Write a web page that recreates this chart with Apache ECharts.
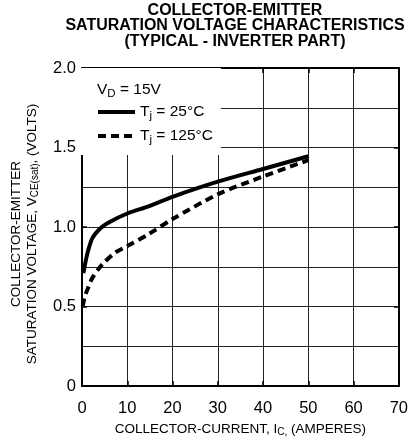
<!DOCTYPE html>
<html><head><meta charset="utf-8">
<script src="https://cdn.jsdelivr.net/npm/echarts@6/dist/echarts.min.js"></script>
<style>html,body{margin:0;padding:0;background:#fff}#c{width:411px;height:442px}</style>
</head><body><div id="c"></div>
<script>
const titleLines = ['COLLECTOR-EMITTER', 'SATURATION VOLTAGE CHARACTERISTICS', '(TYPICAL - INVERTER PART)'];
const xTicks = [0, 10, 20, 30, 40, 50, 60, 70];
const yTickLabels = {0: '0', 0.5: '0.5', 1: '1.0', 1.5: '1.5', 2: '2.0'};
const current25 = [0.3, 0.7, 1.25, 2.3, 4.2, 6, 10, 14.7, 20, 30, 40, 50];
const vce25 = [0.71, 0.77, 0.84, 0.93, 0.995, 1.03, 1.085, 1.13, 1.19, 1.285, 1.365, 1.445];
const current125 = [0.15, 0.6, 1.25, 2.3, 4.5, 7.4, 10, 14.7, 20, 30, 40, 50];
const vce125 = [0.50, 0.56, 0.61, 0.68, 0.765, 0.84, 0.88, 0.955, 1.05, 1.205, 1.318, 1.42];
const seriesNames = ['T{sub|j} = 25°C', 'T{sub|j} = 125°C'];

const FONT = '"Liberation Sans", Arial, Helvetica, sans-serif';
const pair = (xs, ys) => xs.map((x, i) => [x, ys[i]]);
const chart = echarts.init(document.getElementById('c'), null, {renderer: 'canvas'});
const gridLine = {show: true, lineStyle: {color: '#222', width: 1}};
const subStyle = (fs, pad) => ({fontSize: fs, verticalAlign: 'bottom', padding: [pad, 0, 0, 0], fontFamily: FONT, color: '#000'});
chart.setOption({
  animation: false,
  textStyle: {fontFamily: FONT},
  title: [
    {text: titleLines.join('\n'), left: 235, top: 3, textAlign: 'center', padding: 0,
     textStyle: {fontFamily: FONT, fontWeight: 'bold', fontSize: 16, lineHeight: 15.3, color: '#000'}},
    {text: 'V{sub|D} = 15V', left: 97, top: 80, padding: 0,
     textStyle: {fontFamily: FONT, fontWeight: 'normal', fontSize: 15.5, color: '#000',
       rich: {sub: subStyle(11.5, 8)}}}
  ],
  grid: {left: 81, right: 10, top: 68, bottom: 55, containLabel: false},
  legend: {
    left: 81, top: 68, orient: 'vertical',
    padding: [36, 8, 9, 15], itemGap: 6, itemWidth: 37, itemHeight: 14,
    backgroundColor: '#fff',
    itemStyle: {opacity: 0},
    lineStyle: {width: 4, color: '#000', cap: 'butt'},
    data: seriesNames,
    textStyle: {fontFamily: FONT, fontSize: 15.5, color: '#000',
      rich: {sub: subStyle(11.5, 8)}}
  },
  xAxis: [
    {type: 'value', min: xTicks[0], max: xTicks[xTicks.length - 1], interval: 10, position: 'bottom',
     axisLine: {show: true, onZero: false, lineStyle: {color: '#000', width: 2}},
     axisTick: {show: true, inside: true, length: 5, lineStyle: {color: '#000', width: 1.5}},
     axisLabel: {fontSize: 16.5, color: '#000', margin: 14, fontFamily: FONT},
     splitLine: gridLine,
     name: 'COLLECTOR-CURRENT, I{sub|C,} (AMPERES)', nameLocation: 'middle', nameGap: 35,
     nameTextStyle: {fontSize: 13.5, color: '#000', fontFamily: FONT, rich: {sub: subStyle(10, 6)}}},
    {type: 'value', min: xTicks[0], max: xTicks[xTicks.length - 1], interval: 10, position: 'top',
     axisLine: {show: true, onZero: false, lineStyle: {color: '#000', width: 2}},
     axisTick: {show: true, inside: true, length: 5, lineStyle: {color: '#000', width: 1.5}},
     axisLabel: {show: false}, splitLine: {show: false}}
  ],
  yAxis: [
    {type: 'value', min: 0, max: 2, interval: 0.5, position: 'left',
     axisLine: {show: true, onZero: false, lineStyle: {color: '#000', width: 2}},
     axisTick: {show: true, inside: true, length: 5, lineStyle: {color: '#000', width: 1.5}},
     axisLabel: {fontSize: 16.5, color: '#000', margin: 6, fontFamily: FONT,
       formatter: v => yTickLabels[v] !== undefined ? yTickLabels[v] : ''},
     splitLine: gridLine,
     minorTick: {show: false, splitNumber: 2},
     minorSplitLine: {show: true, lineStyle: {color: '#222', width: 1}},
     name: 'COLLECTOR-EMITTER\nSATURATION VOLTAGE, V{sub|CE(sat)}, (VOLTS)', nameLocation: 'middle', nameGap: 42,
     nameTextStyle: {fontSize: 13.5, lineHeight: 16, color: '#000', fontFamily: FONT, padding: [0, 14, 0, 0],
       rich: {sub: subStyle(10, 6)}}},
    {type: 'value', min: 0, max: 2, interval: 0.5, position: 'right',
     axisLine: {show: true, onZero: false, lineStyle: {color: '#000', width: 2}},
     axisTick: {show: true, inside: true, length: 5, lineStyle: {color: '#000', width: 1.5}},
     axisLabel: {show: false}, splitLine: {show: false}}
  ],
  series: [
    {name: seriesNames[0], type: 'line', data: pair(current25, vce25), smooth: 0.3, symbol: 'none',
     lineStyle: {color: '#000', width: 4, type: 'solid', cap: 'butt'}, itemStyle: {color: '#000'}},
    {name: seriesNames[1], type: 'line', data: pair(current125, vce125), smooth: 0.3, symbol: 'none',
     lineStyle: {color: '#000', width: 4, type: [8, 5], cap: 'butt'}, itemStyle: {color: '#000'}}
  ]
});
</script></body></html>
